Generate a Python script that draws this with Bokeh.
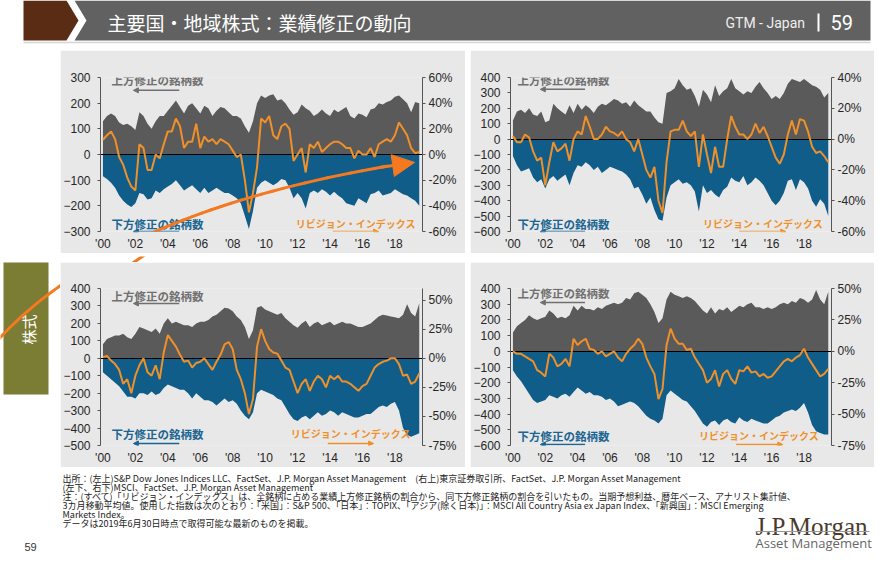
import numpy as np
from bokeh.plotting import figure
from bokeh.models import (Range1d, LinearAxis, FixedTicker, PrintfTickFormatter,
                          Label, Arrow, NormalHead, Spacer)
from bokeh.layouts import column, row
from bokeh.core.properties import value
from bokeh.embed import file_html
from bokeh.resources import INLINE

# ---------------- data (quarterly observations, Jan-2000 .. Jul-2019) ----------------
DATES = [2000 + 0.25 * i for i in range(79)]

US_UP = [130, 150, 160, 150, 125, 115, 120, 110, 95, 165, 150, 120, 100, 130, 150, 150,
         170, 190, 210, 185, 160, 190, 200, 180, 160, 190, 180, 150, 170, 185, 180, 165,
         150, 150, 140, 110, 85, 130, 200, 230, 220, 230, 235, 210, 215, 200, 175, 155,
         165, 195, 180, 170, 150, 160, 175, 160, 150, 175, 165, 175, 185, 150, 140, 160,
         155, 145, 175, 180, 200, 195, 205, 210, 225, 230, 215, 200, 165, 205, 200]
US_DOWN = [-85, -95, -110, -130, -160, -180, -195, -205, -190, -150, -155, -175, -170, -140, -150, -135,
           -125, -115, -100, -120, -140, -130, -120, -135, -150, -130, -150, -140, -130, -140, -150, -150,
           -160, -170, -190, -240, -290, -220, -130, -110, -100, -110, -120, -110, -95, -100, -130, -170,
           -150, -170, -210, -150, -140, -150, -135, -145, -160, -145, -160, -170, -190, -195, -200, -170,
           -180, -190, -155, -150, -140, -160, -155, -150, -135, -145, -155, -160, -170, -180, -200]
US_REV = [11.5, 15, 18, 12, -2, -8, -18, -25, -28, 8, 5, -12, -12, 0, -3, 8,
          18, 18, 28, 22, 5, 10, 10, 24, 5, 14, 10, 12, 8, 12, 10, 8,
          3, -2, 0, -20, -45, -30, -10, 28, 25, 30, 15, 12, 22, 24, 20, -5,
          0, 5, -14, 8, 5, 10, 2, 5, 8, 10, 10, 8, 5, 5, -3, 3,
          0, 0, 5, -2, 8, 10, 12, 10, 15, 25, 20, 15, 5, 1, 2]

JP_UP = [120, 180, 190, 170, 200, 160, 150, 180, 110, 120, 230, 200, 180, 160, 220, 170,
         230, 190, 220, 200, 170, 210, 230, 220, 240, 260, 250, 230, 240, 210, 250, 220,
         200, 180, 180, 140, 110, 100, 300, 310, 330, 390, 350, 320, 330, 280, 210, 320,
         290, 240, 350, 280, 310, 330, 390, 330, 310, 290, 310, 300, 340, 370, 330, 300,
         260, 280, 260, 300, 360, 390, 380, 370, 390, 370, 350, 340, 320, 270, 300]
JP_DOWN = [-110, -170, -210, -200, -190, -250, -280, -260, -320, -260, -240, -270, -250, -230, -300, -220,
           -170, -180, -150, -170, -200, -180, -220, -200, -180, -190, -200, -210, -230, -260, -320, -310,
           -360, -420, -380, -460, -520, -530, -380, -300, -280, -260, -290, -280, -300, -340, -470, -300,
           -350, -330, -360, -380, -330, -310, -250, -270, -280, -240, -300, -280, -250, -270, -300, -350,
           -400, -430, -400, -350, -270, -260, -330, -260, -280, -320, -400, -440, -390, -420, -500]
JP_REV = [2, -2, -2, 3, 1, -8, -14, -12, -30, -15, -2, -8, -6, -3, -14, 0,
          5, 3, 15, 8, 0, 0, 3, 8, 5, 4, 2, 5, 0, -2, -8, 0,
          -10, -20, -25, -18, -40, -48, -15, 5, 6, 6, 12, 5, 2, 5, -18, 3,
          -10, -22, -5, -18, -18, 0, 15, 8, 3, 3, 0, 3, 10, 4, 8, 2,
          -5, -12, -16, -10, 3, 12, 3, 13, 12, 5, -5, -9, -8, -11, -15]

AS_UP = [80, 110, 120, 130, 130, 140, 120, 110, 140, 180, 170, 160, 150, 170, 140, 200,
         230, 200, 210, 200, 190, 190, 180, 200, 210, 210, 220, 240, 250, 270, 290, 285,
         270, 240, 220, 180, 110, 160, 290, 300, 280, 270, 260, 250, 260, 230, 210, 190,
         175, 200, 215, 180, 200, 210, 190, 200, 210, 190, 200, 210, 200, 200, 190, 180,
         180, 190, 200, 220, 240, 250, 245, 240, 235, 230, 250, 310, 260, 240, 315]
AS_DOWN = [-80, -100, -120, -140, -160, -190, -220, -220, -230, -200, -200, -210, -190, -210, -200, -170,
           -150, -160, -170, -180, -180, -200, -230, -200, -220, -240, -240, -250, -270, -250, -230, -250,
           -240, -260, -300, -330, -350, -310, -200, -180, -190, -200, -210, -230, -240, -280, -320, -350,
           -360, -340, -330, -350, -330, -310, -330, -320, -300, -310, -330, -310, -320, -330, -340, -340,
           -330, -320, -320, -300, -280, -270, -280, -260, -250, -300, -400, -440, -450, -440, -430]
AS_REV = [1, 2, -2, -5, -10, -22, -18, -30, -15, -6, 0, -12, -15, -6, -18, 5,
          20, 15, 10, 3, -3, -2, -8, -4, -3, 0, -5, -10, -3, 3, 12, 14,
          8, -10, -18, -30, -48, -35, 10, 25, 15, 8, 5, 4, -2, -8, -10, -20,
          -30, -22, -18, -28, -20, -15, -18, -25, -15, -18, -15, -20, -20, -22, -25, -28,
          -24, -22, -15, -8, -5, -3, -2, 0, 0, -5, -15, -14, -22, -20, -13]

EM_UP = [120, 160, 180, 200, 230, 210, 200, 210, 220, 260, 240, 210, 220, 210, 230, 290,
         260, 290, 270, 270, 260, 280, 270, 290, 300, 310, 300, 310, 340, 330, 370, 380,
         360, 340, 300, 250, 180, 210, 330, 380, 360, 350, 340, 350, 340, 320, 290, 260,
         240, 280, 240, 270, 260, 280, 250, 270, 290, 280, 300, 310, 280, 280, 270, 280,
         270, 280, 300, 310, 300, 320, 310, 340, 330, 310, 330, 390, 330, 300, 380]
EM_DOWN = [-120, -160, -190, -230, -270, -310, -330, -320, -310, -280, -290, -300, -280, -270, -290, -260,
           -230, -250, -270, -260, -280, -280, -290, -310, -300, -320, -350, -340, -330, -320, -330, -350,
           -380, -410, -430, -440, -460, -430, -280, -250, -270, -290, -310, -320, -350, -380, -420, -460,
           -480, -450, -440, -470, -440, -430, -450, -460, -420, -440, -450, -430, -440, -450, -460, -460,
           -440, -420, -410, -390, -380, -370, -380, -360, -330, -390, -470, -510, -520, -530, -530]
EM_REV = [0, -2, -2, -4, -6, -8, -15, -17, -20, -2, -5, -12, -10, -6, -12, 10,
          5, 8, 10, 2, 1, -2, 0, -4, -2, 0, -5, -8, -2, 2, 5, 10,
          6, -5, -12, -18, -38, -30, 5, 18, 10, 6, 6, 1, 2, -5, -10, -15,
          -25, -22, -15, -28, -18, -15, -22, -26, -15, -16, -12, -17, -16, -20, -18, -21,
          -20, -16, -12, -8, -6, -8, -5, -3, 2, -5, -10, -15, -20, -18, -14]

XTICKS = [2000, 2002, 2004, 2006, 2008, 2010, 2012, 2014, 2016, 2018]
XTICK_LABELS = ["'00", "'02", "'04", "'06", "'08", "'10", "'12", "'14", "'16", "'18"]

US_LTICKS = [-300, -200, -100, 0, 100, 200, 300]
US_RTICKS = [-60, -40, -20, 0, 20, 40, 60]
JP_LTICKS = [-600, -500, -400, -300, -200, -100, 0, 100, 200, 300, 400]
JP_RTICKS = [-60, -40, -20, 0, 20, 40]
AS_LTICKS = [-500, -400, -300, -200, -100, 0, 100, 200, 300, 400]
AS_RTICKS = [-75, -50, -25, 0, 25, 50]
EM_LTICKS = [-600, -500, -400, -300, -200, -100, 0, 100, 200, 300, 400]
EM_RTICKS = [-75, -50, -25, 0, 25, 50]

UP_LABEL = "上方修正の銘柄数"
DOWN_LABEL = "下方修正の銘柄数"
REV_LABEL = "リビジョン・インデックス"

FOOT_LINES = [
    "出所：(左上)S&P Dow Jones Indices LLC、FactSet、J.P. Morgan Asset Management　(右上)東京証券取引所、FactSet、J.P. Morgan Asset Management",
    "(左下、右下)MSCI、FactSet、J.P. Morgan Asset Management",
    "注：(すべて)「リビジョン・インデックス」は、全銘柄に占める業績上方修正銘柄の割合から、同下方修正銘柄の割合を引いたもの。当期予想利益、暦年ベース、アナリスト集計値、",
    "3カ月移動平均値。使用した指数は次のとおり：「米国」：S&P 500、「日本」：TOPIX、「アジア(除く日本)」：MSCI All Country Asia ex Japan Index、「新興国」：MSCI Emerging",
    "Markets Index。",
    "データは2019年6月30日時点で取得可能な最新のものを掲載。",
]

# ---------------- styles ----------------
CJK = "Noto Sans CJK JP"
SANS = "Liberation Sans"
PANEL = "#e8e8e8"
UP_COLOR = "#5a5a5a"
DOWN_COLOR = "#0f5d88"
REV_COLOR = "#f0902a"
UP_TEXT = "#707070"
DOWN_TEXT = "#1a6591"
BIG_ARROW = "#f47920"
AXIS_COL = "#555555"
TICK_TXT = "#262626"
X_RANGE = (1999.85, 2019.7)

# overlay arrow path (page pixels), quadratic Bezier
_P0, _C, _P2 = np.array([-4.0, 341.0]), np.array([110.0, 215.0]), np.array([386.0, 167.0])


def bez(t):
    t = np.asarray(t, dtype=float)
    x = (1 - t) ** 2 * _P0[0] + 2 * t * (1 - t) * _C[0] + t ** 2 * _P2[0]
    y = (1 - t) ** 2 * _P0[1] + 2 * t * (1 - t) * _C[1] + t ** 2 * _P2[1]
    return x, y


ARC_X, ARC_Y = bez(np.linspace(0, 1, 46))


def style_axis(ax, standoff, tick_out):
    ax.axis_line_color = AXIS_COL
    ax.axis_line_width = 1
    ax.major_tick_line_color = AXIS_COL
    ax.major_tick_out = tick_out
    ax.major_tick_in = 0
    ax.minor_tick_line_color = None
    ax.major_label_standoff = standoff
    ax.major_label_text_font = SANS
    ax.major_label_text_font_size = "12px"
    ax.major_label_text_color = TICK_TXT


def make_chart(title, up, down, rev, lrange, rrange, lticks, rticks,
               fig_box, frame, marks, arc=False, arrow_head=False):
    fx, fy, fw, fh = fig_box
    L, R, T, B = frame
    x0, x1 = X_RANGE
    y0, y1 = lrange
    p = figure(width=fw, height=fh, x_range=Range1d(x0, x1), y_range=Range1d(y0, y1),
               output_backend="svg", toolbar_location=None, tools="",
               min_border_left=L - fx, min_border_right=fx + fw - R,
               min_border_top=T - fy, min_border_bottom=fy + fh - B,
               background_fill_color=PANEL, border_fill_color=PANEL,
               outline_line_color=None)
    p.grid.visible = False
    p.extra_y_ranges = {"rev": Range1d(*rrange)}

    def to_data(X, Y):
        return (x0 + (np.asarray(X, dtype=float) - L) * (x1 - x0) / (R - L),
                y1 - (np.asarray(Y, dtype=float) - T) * (y1 - y0) / (B - T))

    p.varea(x=DATES[:len(up)], y1=0, y2=up, fill_color=UP_COLOR)
    p.varea(x=DATES[:len(down)], y1=down, y2=0, fill_color=DOWN_COLOR)
    p.hspan(y=[0], line_color="black", line_width=1.2)
    p.line(DATES[:len(rev)], rev, y_range_name="rev", line_color=REV_COLOR, line_width=2)

    xa = p.xaxis[0]
    xa.ticker = FixedTicker(ticks=XTICKS)
    xa.major_label_overrides = dict(zip(XTICKS, XTICK_LABELS))
    style_axis(xa, 5, 0)
    xa.axis_line_color = None
    xa.major_tick_line_color = None

    ya = p.yaxis[0]
    ya.ticker = FixedTicker(ticks=lticks)
    style_axis(ya, 7, 3)

    ra = LinearAxis(y_range_name="rev", ticker=FixedTicker(ticks=rticks),
                    formatter=PrintfTickFormatter(format="%d%%"))
    style_axis(ra, 3, 3)
    p.add_layout(ra, "right")

    tx, ty = to_data(*marks["title"])
    p.add_layout(Label(x=float(tx), y=float(ty), text=title, text_font=CJK,
                       text_font_size="13px", text_font_style="bold", text_color="#111111",
                       text_baseline="middle", text_align="left"))
    specs = (("up", UP_LABEL, UP_TEXT, "11.5px", "left"),
             ("down", DOWN_LABEL, DOWN_TEXT, "11.5px", "left"),
             ("rev", REV_LABEL, REV_COLOR, "10px", "center"))
    for key, txt, col, size, align in specs:
        lx, ly = to_data(*marks[key])
        p.add_layout(Label(x=float(lx), y=float(ly), text=txt, text_font=CJK,
                           text_font_size=size, text_font_style="bold", text_color=col,
                           text_baseline="middle", text_align=align))
    for key, txt, col, size, align in specs:
        (sx, sy), (ex, ey) = marks[key + "_arrow"]
        ax0, ay0 = to_data(sx, sy)
        ax1, ay1 = to_data(ex, ey)
        p.add_layout(Arrow(end=NormalHead(size=5, fill_color=col, line_color=col),
                           x_start=float(ax0), y_start=float(ay0), x_end=float(ax1), y_end=float(ay1),
                           line_color=col, line_width=1.5))

    if arc:
        bx, by = to_data(ARC_X, ARC_Y)
        for i in range(len(bx) - 1):
            p.add_layout(Arrow(end=None, x_start=float(bx[i]), y_start=float(by[i]),
                               x_end=float(bx[i + 1]), y_end=float(by[i + 1]),
                               line_color=BIG_ARROW, line_width=3, line_cap="round"))
    if arrow_head:
        hx0, hy0 = to_data(380, 168)
        hx1, hy1 = to_data(414, 163)
        p.add_layout(Arrow(end=NormalHead(size=22, fill_color=BIG_ARROW, line_color=BIG_ARROW),
                           x_start=float(hx0), y_start=float(hy0), x_end=float(hx1), y_end=float(hy1),
                           line_color=BIG_ARROW, line_width=3))
    return p


us = make_chart("米国：業績修正の推移", US_UP, US_DOWN, US_REV, (-300, 300), (-60, 60),
                US_LTICKS, US_RTICKS, (60, 50, 405, 203), (99, 422, 77, 233),
                {"title": (63, 60), "up": (110, 80), "up_arrow": ((178, 90), (132, 90)),
                 "down": (110, 225), "down_arrow": ((178, 233), (132, 233)),
                 "rev": (355, 225), "rev_arrow": ((332, 233), (378, 233))},
                arc=True, arrow_head=True)
jp = make_chart("日本：業績修正の推移", JP_UP, JP_DOWN, JP_REV, (-600, 400), (-60, 40),
                JP_LTICKS, JP_RTICKS, (470, 50, 404, 203), (508, 831, 77, 233),
                {"title": (475, 60), "up": (515, 80), "up_arrow": ((583, 89), (538, 89)),
                 "down": (515, 225), "down_arrow": ((583, 233), (538, 233)),
                 "rev": (762, 225), "rev_arrow": ((738, 233), (785, 233))})
asia = make_chart("アジア(除く日本)：業績修正の推移", AS_UP, AS_DOWN, AS_REV, (-500, 400), (-75, 60),
                  AS_LTICKS, AS_RTICKS, (60, 262, 405, 205), (99, 422, 288, 445),
                  {"title": (63, 273), "up": (110, 295), "up_arrow": ((178, 303), (132, 303)),
                   "down": (110, 433), "down_arrow": ((178, 443), (132, 443)),
                   "rev": (350, 433), "rev_arrow": ((327, 443), (373, 443))})
em = make_chart("新興国：業績修正の推移", EM_UP, EM_DOWN, EM_REV, (-600, 400), (-75, 50),
                EM_LTICKS, EM_RTICKS, (470, 262, 404, 205), (508, 831, 288, 445),
                {"title": (474, 274), "up": (515, 292), "up_arrow": ((583, 302), (538, 302)),
                 "down": (515, 435), "down_arrow": ((583, 444), (538, 444)),
                 "rev": (758, 435), "rev_arrow": ((735, 444), (782, 444))})


def canvas(w, h, xr, yr):
    c = figure(width=w, height=h, x_range=Range1d(*xr), y_range=Range1d(*yr),
               x_axis_type=None, y_axis_type=None, output_backend="svg",
               toolbar_location=None, tools="", min_border=0, outline_line_color=None,
               background_fill_color="white", border_fill_color="white")
    c.grid.visible = False
    return c


# header (page pixels)
hdr = canvas(884, 50, (0, 884), (50, 0))
hdr.patch([23, 66, 78, 66, 23], [0, 0, 20, 40, 40], fill_color="#5b2c14", line_color=None)
hdr.patch([74, 870, 870, 74, 86], [0, 0, 40, 40, 20], fill_color="#616161", line_color=None)
hdr.segment(x0=[23], y0=[42], x1=[870], y1=[42], line_color="#d4d4d4", line_width=1.5)
hdr.text(x=[107], y=[22], text=["主要国・地域株式：業績修正の動向"], text_font=value(CJK),
         text_font_size="19px", text_color="white", text_baseline="middle")
hdr.text(x=[725], y=[22], text=["GTM - Japan"], text_font=value("Roboto"),
         text_font_size="14px", text_color="#eeeeee", text_baseline="middle")
hdr.segment(x0=[818], y0=[13], x1=[818], y1=[31], line_color="white", line_width=2)
hdr.text(x=[830], y=[22], text=["59"], text_font=value("Roboto"),
         text_font_size="20px", text_color="white", text_baseline="middle")

# side tab (page pixels)
side = canvas(60, 417, (0, 60), (467, 50))
side.quad(left=[3], right=[48], top=[262], bottom=[394], fill_color="#7a7d33", line_color=None)
side.text(x=[28], y=[329], text=["株式"], angle=[np.pi / 2], text_font=value(CJK),
          text_font_size="15px", text_color="white", text_baseline="middle", text_align="center")
side.line(list(ARC_X), list(ARC_Y), line_color=BIG_ARROW, line_width=3)

# white gap between the two chart rows (page pixels)
gap = canvas(405, 9, (60, 465), (262, 253))
gap.line(list(ARC_X), list(ARC_Y), line_color=BIG_ARROW, line_width=3)

# footer (page pixels)
foot = canvas(884, 103, (0, 884), (570, 467))
foot.text(x=[62] * len(FOOT_LINES), y=[478 + 9 * i for i in range(len(FOOT_LINES))],
          text=FOOT_LINES, text_font=value(CJK), text_font_size="9px",
          text_color="#222222", text_baseline="middle")
foot.text(x=[24], y=[546], text=["59"], text_font=value(SANS), text_font_size="11px",
          text_color="#333333", text_baseline="middle")
foot.text(x=[755], y=[526], text=["J.P.Morgan"], text_font=value("Liberation Serif"),
          text_font_size="25px", text_color="#4a3b2e", text_baseline="alphabetic")
foot.segment(x0=[755], y0=[531], x1=[869], y1=[531], line_color="#9a9a9a", line_width=1)
foot.text(x=[755], y=[542], text=["Asset Management"], text_font=value("Open Sans"),
          text_font_size="13px", text_color="#666666", text_baseline="middle")

col1 = column(us, gap, asia, spacing=0)
col2 = column(jp, Spacer(width=404, height=9), em, spacing=0)
mid = row(side, col1, Spacer(width=5, height=417), col2, spacing=0)
page = column(hdr, mid, foot, spacing=0)

open("out.html", "w").write(file_html(page, INLINE))
